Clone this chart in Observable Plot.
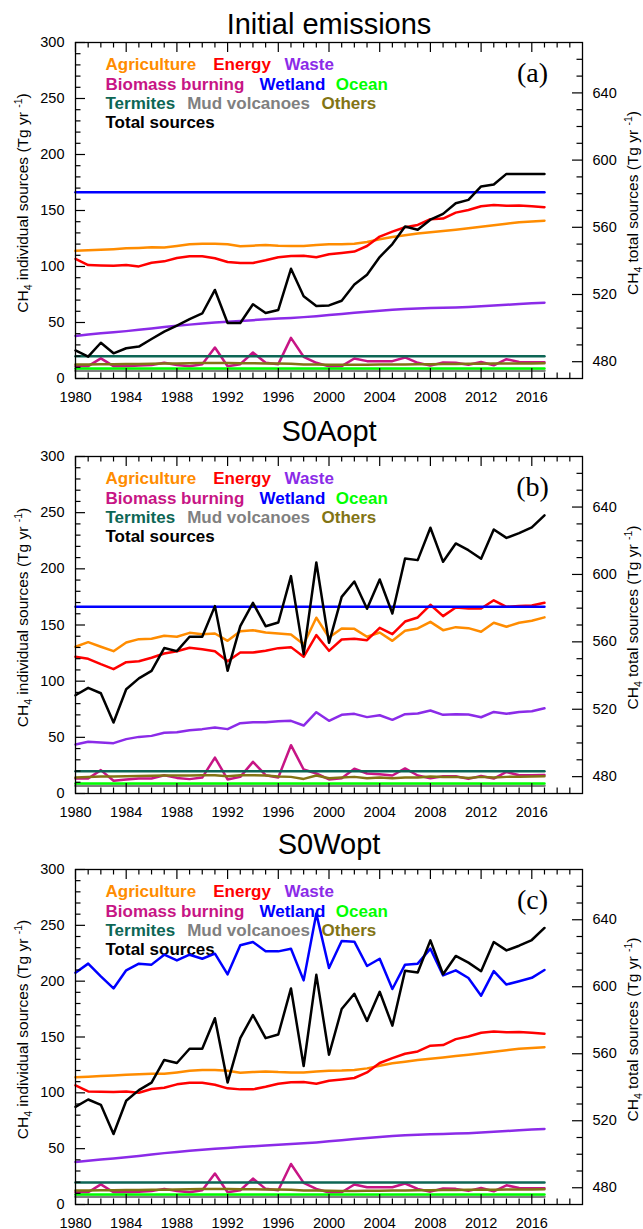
<!DOCTYPE html>
<html><head><meta charset="utf-8">
<script src="https://cdn.jsdelivr.net/npm/d3@7"></script>
<script src="https://cdn.jsdelivr.net/npm/@observablehq/plot@0.6"></script>
<style>
html,body{margin:0;padding:0;background:#fff;}
#chart svg{display:block;}
</style></head><body><div id="chart"></div>
<script>
// ---------------- data ----------------
const years = [1980,1981,1982,1983,1984,1985,1986,1987,1988,1989,1990,1991,1992,1993,1994,1995,1996,1997,1998,1999,2000,2001,2002,2003,2004,2005,2006,2007,2008,2009,2010,2011,2012,2013,2014,2015,2016,2017];

// prior (initial) emissions, Tg/yr
const agriPrior = [114,114.5,115,115.5,116.2,116.6,117.1,117,118.3,119.8,120.4,120.4,119.8,118,118.6,119.2,118.6,118.3,118.3,119.2,119.8,119.9,120.4,121.9,124.3,126.4,127.9,129.4,130.5,131.7,132.9,134.1,135.5,136.8,138.2,139.5,140.2,140.8];
const energyPrior = [106.7,101.3,101,100.7,101.3,100.1,103.4,104.6,107.6,109.1,109.1,107.3,104,103.1,103.1,105.5,108.2,109.4,109.7,108.2,110.9,112,113.3,118.3,126.7,131.1,135,137.1,142.2,142.8,148.1,150.5,153.8,155,154.2,154.5,153.8,153];
const wastePrior = [38,39.2,40.3,41.3,42.3,43.5,44.7,46,47.1,48.1,49,49.9,50.7,51.4,52.1,52.8,53.5,54.1,54.8,55.6,56.6,57.6,58.6,59.6,60.5,61.3,62,62.5,62.9,63.2,63.5,63.9,64.4,65.1,65.8,66.5,67.1,67.7];
const biomassPrior = [11,11,18,11,11,11.5,12,14,12,11,12.8,27.7,11,12.8,23.2,14,12.8,36.3,19.4,14,10.8,11,17.9,15.5,15.5,15.5,18.8,14,11.5,14.3,14,12.2,14.8,11.8,17.2,14.8,14.5,14.5];
const othersPrior = [12.5,12.6,12.7,12.8,12.9,13,13.1,13.3,13.5,13.6,13.8,13.9,13.8,13.7,13.6,13.5,13.4,13.2,12.6,12.5,12.3,12.2,12.2,12.3,12.4,12.5,12.6,12.7,12.8,12.9,13,13.1,13.2,13.3,13.4,13.5,13.5,13.6];
const wetlandPrior = [166.3,166.3,166.3,166.3,166.3,166.3,166.3,166.3,166.3,166.3,166.3,166.3,166.3,166.3,166.3,166.3,166.3,166.3,166.3,166.3,166.3,166.3,166.3,166.3,166.3,166.3,166.3,166.3,166.3,166.3,166.3,166.3,166.3,166.3,166.3,166.3,166.3,166.3];
const termites = [19.8,19.8,19.8,19.8,19.8,19.8,19.8,19.8,19.8,19.8,19.8,19.8,19.8,19.8,19.8,19.8,19.8,19.8,19.8,19.8,19.8,19.8,19.8,19.8,19.8,19.8,19.8,19.8,19.8,19.8,19.8,19.8,19.8,19.8,19.8,19.8,19.8,19.8];
const ocean = [9,9,9,9,9,9,9,9,9,9,9,9,9,9,9,9,9,9,9,9,9,9,9,9,9,9,9,9,9,9,9,9,9,9,9,9,9,9];
const mudVolcanoes = [7,7,7,7,7,7,7,7,7,7,7,7,7,7,7,7,7,7,7,7,7,7,7,7,7,7,7,7,7,7,7,7,7,7,7,7,7,7];
const totalPrior = [486.7,483,491.3,485,488,489,493.5,497.9,501.5,505.3,508.7,522.7,503,503,514.2,509,510.8,535.3,519,513.1,513.5,516.3,525.9,531.8,542.3,550,560.5,558.5,564.5,568,574.3,576.3,584.3,585.5,591.8,591.8,591.8,591.8];

// S0Aopt (anthropogenic sources optimized)
const agriAopt = [130.6,134.7,130.6,126.7,134.4,137.4,137.7,140.4,139.5,143,141.8,142.4,135.9,144.5,145.4,143.3,142.4,141.5,132.9,156.5,138.9,146.9,146.6,139.5,143.3,135.9,144.8,146.9,152.8,145.4,148.1,147.2,144,152,148.5,152,153.8,156.8];
const energyAopt = [121.7,119.9,115.1,110.7,116.9,117.8,120.8,124.6,126.7,129.7,128.5,126.7,117.8,125.5,125.5,127,129.4,130.3,121.7,141,127,137.1,137.7,136.5,147.5,141.8,153.1,156.7,168,157.9,165.6,164.7,164.7,172,166.2,167,167.4,169.8];
const wasteAopt = [43.6,46,45.4,44.8,48.4,50.4,51.3,54,54.6,56.4,57.3,58.8,57.3,62.6,63.5,63.5,64.4,64.7,60.5,72.4,64.7,70,70.9,68,69.7,65.6,70.6,71.2,73.9,70,70.6,70.3,67.9,72.6,70.9,72.6,73.2,75.9];
const biomassAopt = [13.4,13.4,20.8,11.3,12.5,13.4,13.4,16.3,13.9,12.8,14.2,32,12.5,14.8,28.2,16.3,14.2,43,21.4,17.8,12.5,13.6,22,17.8,17.2,16,22.3,16,13.6,15.4,15.4,13,15.6,13.3,19.2,16.2,16.2,16.5];
const othersAopt = [14.2,14.6,15.1,15.2,15.4,15.6,15.8,16,16,16.1,16.2,16.3,15.4,16.2,16.3,16,15.1,14.8,13,16,13.6,14.2,14.8,13.6,14.2,13.6,14.2,14.2,15.1,14.6,14.8,13.9,14.8,14.2,14.8,15,15.2,15.4];
const totalOpt = [528.3,532.7,529.5,512.1,531.9,538.3,542.8,556.3,554.5,563,563,581.2,542.8,569.3,583.1,569.3,571.5,599,552.7,607.1,559.4,586.7,595.8,579.6,597,576.8,609.5,608.5,627.7,607.5,618.4,614.4,609.3,626.7,621.7,624.5,627.9,635.1];

// S0Wopt (wetland optimized)
const wetlandWopt = [207.6,215.7,204.3,193.5,209.7,215.7,214.8,223.7,218.6,223.7,220.1,224.6,206.1,232.1,235.1,226.7,226.7,229.1,200.7,260.5,211.8,236,235.4,213.6,220.1,193,214.8,215.7,229.1,205.2,209.7,202.8,187,209,197,200,203,210];

// ticks
const xLabelTicks = [1980,1984,1988,1992,1996,2000,2004,2008,2012,2016];
const xMinorTicks = [1981,1982,1983,1985,1986,1987,1989,1990,1991,1993,1994,1995,1997,1998,1999,2001,2002,2003,2005,2006,2007,2009,2010,2011,2013,2014,2015,2017,2018,2019];
const yLeftLabels = [0,50,100,150,200,250,300];
const yLeftMinor = [10,20,30,40,60,70,80,90,110,120,130,140,160,170,180,190,210,220,230,240,260,270,280,290];
const yRightLabels = [480,520,560,600,640];
const yRightMinor = [490,500,510,530,540,550,570,580,590,610,620,630,650,660];

const names = ["Agriculture","Energy","Waste","Biomass burning","Wetland","Ocean","Termites","Mud volcanoes","Others","Total sources"];
const colors = ["#ff8c00","#ff0000","#8b2be8","#c71585","#0000ff","#00ff00","#0d6655","#808080","#827414","#000000"];
const titles = ["Initial emissions","S0Aopt","S0Wopt"];
const tags = ["(a)","(b)","(c)"];

// ---------------- layout ----------------
const W = 643, ML = 75, MR = 61;
const innerW = W - ML - MR;
const RIGHT0 = 470;             // right-axis value at left-axis 0
const toLeft = t => (t - RIGHT0) * 1.5;
const fromLeft = v => v / 1.5 + RIGHT0;
const legendPos = [[30,27.5],[137.7,27.5],[209,27.5],[30,47],[184,47],[260.3,47],[30,66],[111.7,66],[246,66],[30,85]];
const col = Object.fromEntries(names.map((n,i)=>[n,colors[i]]));

function panel(cfg) {
  const innerH = cfg.height - cfg.mt - cfg.mb;
  const X = (d,i) => years[i];
  const marks = [];
  marks.push(Plot.text([cfg.title], {text: d=>d, frameAnchor:"top", dy: cfg.titleDy, lineAnchor:"bottom", fontSize:29, fill:"black"}));
  marks.push(Plot.text([cfg.tag], {text: d=>d, frameAnchor:"top-right", dx:-50, dy:39.5, lineAnchor:"bottom", textAnchor:"middle", fontSize:28, fontFamily:"Liberation Serif, Times New Roman, serif", fill:"black"}));
  names.forEach((n,i) => {
    marks.push(Plot.text([n], {text: d=>d, frameAnchor:"top-left", dx: legendPos[i][0], dy: legendPos[i][1], lineAnchor:"bottom", textAnchor:"start", fill: colors[i], fontWeight:"bold", fontSize:17}));
  });
  for (const s of cfg.series) marks.push(Plot.line(s.values, {x: X, y: d=>d, stroke: col[s.name], strokeWidth: 2.5}));
  marks.push(Plot.line(cfg.total, {x: X, y: d=>toLeft(d), stroke: col["Total sources"], strokeWidth: 2.5}));
  // inward ticks on all four sides
  const tk = {stroke:"black", strokeWidth:1.2};
  marks.push(Plot.tickX(xLabelTicks, {x: d=>d, insetTop: innerH-10, ...tk}));
  marks.push(Plot.tickX(xMinorTicks, {x: d=>d, insetTop: innerH-5.5, ...tk}));
  marks.push(Plot.tickX(xLabelTicks, {x: d=>d, insetBottom: innerH-10, ...tk}));
  marks.push(Plot.tickX(xMinorTicks, {x: d=>d, insetBottom: innerH-5.5, ...tk}));
  marks.push(Plot.tickY(yLeftLabels, {y: d=>d, insetRight: innerW-10, ...tk}));
  marks.push(Plot.tickY(yLeftMinor, {y: d=>d, insetRight: innerW-5.5, ...tk}));
  marks.push(Plot.tickY(yRightLabels.map(toLeft), {y: d=>d, insetLeft: innerW-10, ...tk}));
  marks.push(Plot.tickY(yRightMinor.map(toLeft), {y: d=>d, insetLeft: innerW-5.5, ...tk}));
  marks.push(Plot.frame({stroke:"black", strokeWidth:1.3}));
  marks.push(Plot.axisX({ticks: xLabelTicks, tickFormat: d=>String(d), tickSize:0, tickPadding:13, fontSize:14.5, label:null}));
  marks.push(Plot.axisY({anchor:"left", ticks: yLeftLabels, tickFormat: d=>String(d), tickSize:0, tickPadding:11, fontSize:14.5, label:null}));
  marks.push(Plot.axisY({anchor:"right", ticks: yRightLabels.map(toLeft), tickFormat: d=>String(Math.round(fromLeft(d))), tickSize:0, tickPadding:10, fontSize:14.5, label:null}));

  const svg = Plot.plot({
    width: W, height: cfg.height,
    marginLeft: ML, marginRight: MR, marginTop: cfg.mt, marginBottom: cfg.mb,
    x: {domain: [1980, 2020]},
    y: {domain: [0, 300]},
    style: {fontFamily: "Liberation Sans, Arial, Helvetica, sans-serif", fontSize: "14.5px", background: "white", color: "black", overflow: "visible"},
    marks
  });
  const sel = d3.select(svg);
  const cy = cfg.mt + innerH/2 - 7;
  function axisTitle(x, pre, mid) {
    const t = sel.append("text")
      .attr("transform", `translate(${x},${cy}) rotate(-90)`)
      .attr("text-anchor","middle").attr("font-size", 15.5).attr("fill","black")
      .attr("font-family","Liberation Sans, Arial, Helvetica, sans-serif");
    t.append("tspan").text(pre);
    t.append("tspan").attr("font-size", 10.5).attr("dy", 4).text("4");
    t.append("tspan").attr("dy", -4).text(mid);
    t.append("tspan").attr("font-size", 10.5).attr("dy", -6).text("-1");
    t.append("tspan").attr("dy", 6).text(")");
  }
  axisTitle(27.5, "CH", " individual sources (Tg yr ");
  axisTitle(638, "CH", " total sources (Tg yr ");
  return svg;
}

const root = document.getElementById("chart");
root.append(panel({title: titles[0], tag: tags[0], height: 414, mt: 42, mb: 36, titleDy: -9,
  series: [
    {name:"Agriculture", values: agriPrior},
    {name:"Energy", values: energyPrior},
    {name:"Waste", values: wastePrior},
    {name:"Biomass burning", values: biomassPrior},
    {name:"Wetland", values: wetlandPrior},
    {name:"Mud volcanoes", values: mudVolcanoes},
    {name:"Ocean", values: ocean},
    {name:"Termites", values: termites},
    {name:"Others", values: othersPrior}
  ], total: totalPrior}));
root.append(panel({title: titles[1], tag: tags[1], height: 414, mt: 42, mb: 35, titleDy: -16,
  series: [
    {name:"Agriculture", values: agriAopt},
    {name:"Energy", values: energyAopt},
    {name:"Waste", values: wasteAopt},
    {name:"Biomass burning", values: biomassAopt},
    {name:"Wetland", values: wetlandPrior},
    {name:"Mud volcanoes", values: mudVolcanoes},
    {name:"Ocean", values: ocean},
    {name:"Termites", values: termites},
    {name:"Others", values: othersAopt}
  ], total: totalOpt}));
root.append(panel({title: titles[2], tag: tags[2], height: 401, mt: 41, mb: 25, titleDy: -16,
  series: [
    {name:"Agriculture", values: agriPrior},
    {name:"Energy", values: energyPrior},
    {name:"Waste", values: wastePrior},
    {name:"Biomass burning", values: biomassPrior},
    {name:"Wetland", values: wetlandWopt},
    {name:"Mud volcanoes", values: mudVolcanoes},
    {name:"Ocean", values: ocean},
    {name:"Termites", values: termites},
    {name:"Others", values: othersPrior}
  ], total: totalOpt}));
</script></body></html>
